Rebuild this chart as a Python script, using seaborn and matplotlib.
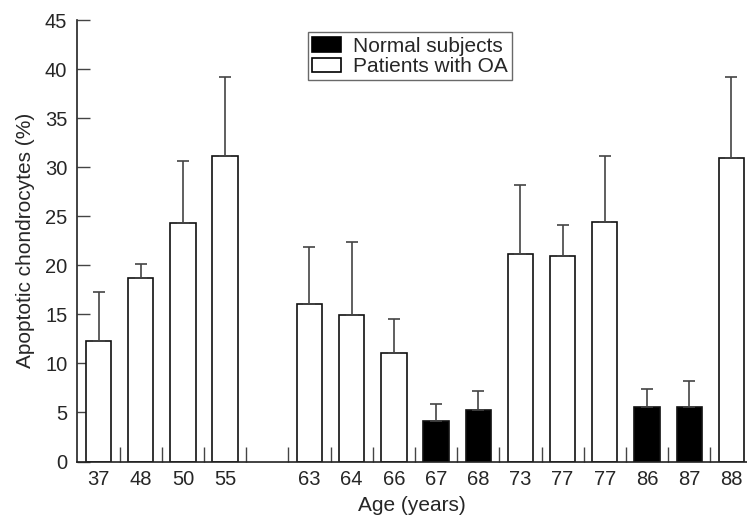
import numpy as np
import pandas as pd
import matplotlib
matplotlib.use("Agg")
import matplotlib.pyplot as plt
import seaborn as sns

# data (slot 4 is an empty gap)
slots = [0, 1, 2, 3, 5, 6, 7, 8, 9, 10, 11, 12, 13, 14, 15]
ages = ['37', '48', '50', '55', '63', '64', '66', '67', '68', '73', '77', '77', '86', '87', '88']
values = [12.3, 18.7, 24.3, 31.1, 16.1, 14.9, 11.1, 4.1, 5.3, 21.2, 20.9, 24.4, 5.6, 5.6, 30.9]
err_top = [17.3, 20.1, 30.6, 39.2, 21.9, 22.4, 14.5, 5.9, 7.2, 28.2, 24.1, 31.1, 7.4, 8.2, 39.2]
groups = ['Patients with OA'] * 7 + ['Normal subjects'] * 2 + ['Patients with OA'] * 3 \
    + ['Normal subjects'] * 2 + ['Patients with OA']
n_slots = 16

df = pd.DataFrame({'slot': slots, 'value': values, 'group': groups})

sns.set_style("white")
plt.rcParams['font.family'] = ['Liberation Sans', 'DejaVu Sans']

fig = plt.figure(figsize=(7.47, 5.18), dpi=100)
ax = fig.add_axes([77 / 747, 1 - 461.5 / 518, 670 / 747, 441.5 / 518])

sns.barplot(data=df, x='slot', y='value', hue='group', order=list(range(n_slots)),
            hue_order=['Normal subjects', 'Patients with OA'], dodge=False,
            palette={'Normal subjects': 'black', 'Patients with OA': 'white'},
            edgecolor='#111111', linewidth=1.2, width=0.6, errorbar=None, ax=ax)

# upper error bars only
up = np.array(err_top) - np.array(values)
ax.errorbar(slots, values, yerr=[np.zeros(len(up)), up], fmt='none',
            ecolor='#444444', elinewidth=1.2, capsize=4.6, capthick=1.2, zorder=1)

ax.set_ylim(0, 45)
ax.set_xlim(-0.51, 15.37)
ax.set_yticks(range(0, 46, 5))
ax.tick_params(axis='y', left=True, direction='in', length=9.5, width=1, color='#444444',
               labelsize=14.5, pad=7)

labels = []
for s in range(n_slots):
    labels.append(ages[slots.index(s)] if s in slots else '')
ax.set_xticks(range(n_slots))
ax.set_xticklabels(labels)
ax.set_xticks(np.arange(0.5, 15, 1), minor=True)
ax.tick_params(axis='x', which='major', length=0, labelsize=14.5, pad=6)
ax.tick_params(axis='x', which='minor', direction='in', length=10.5, width=1, color='#444444',
               bottom=True)

for side in ['top', 'right']:
    ax.spines[side].set_visible(False)
for side in ['left', 'bottom']:
    ax.spines[side].set_color('#222222')
    ax.spines[side].set_linewidth(1.2)

ax.set_xlabel("Age (years)", fontsize=15, labelpad=5)
ax.set_ylabel("Apoptotic chondrocytes (%)", fontsize=15, labelpad=7)

leg = ax.legend(loc='upper left', bbox_to_anchor=(0.345, 0.972), fontsize=15,
                frameon=True, fancybox=False, edgecolor='#444444',
                handlelength=1.4, handleheight=0.7, handletextpad=0.55,
                borderpad=0.2, labelspacing=0.08, borderaxespad=0)
leg.get_frame().set_linewidth(1.0)
for h in leg.legend_handles:
    h.set_edgecolor('black')

fig.savefig('out.png', dpi=100)
